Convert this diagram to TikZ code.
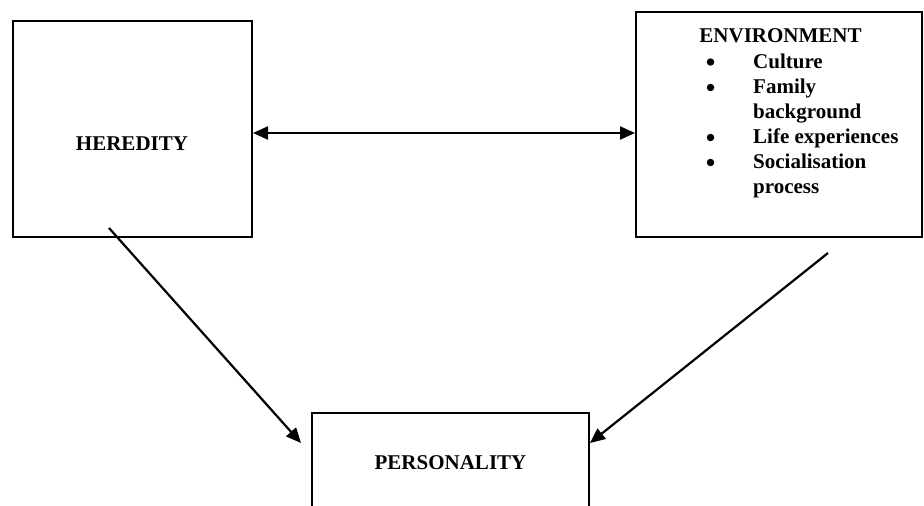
\documentclass[tikz,border=0pt]{standalone}
\usepackage{fontspec}
\setmainfont{Liberation Serif}
\usetikzlibrary{arrows.meta}
\begin{document}
\begin{tikzpicture}[x=1pt,y=-1pt,
  box/.style={draw, line width=2pt, inner sep=0pt},
  lbl/.style={font=\fontsize{21}{25}\selectfont\bfseries, inner sep=0pt, anchor=base},
  bul/.style={circle, fill, inner sep=0pt, minimum size=7.5pt},
  item/.style={font=\fontsize{21}{25}\selectfont\bfseries, inner sep=0pt, anchor=base west},
  conn/.style={line width=2.2pt, -{Triangle[length=15pt,width=13pt]}},
  dconn/.style={line width=2.2pt, {Triangle[length=15pt,width=13pt]}-{Triangle[length=15pt,width=13pt]}}]
\useasboundingbox (0,0) rectangle (924,506);
\clip (0,0) rectangle (924,506);
% boxes
\node[box, minimum width=239.5pt, minimum height=216pt] (her) at (132.25,129) {};
\node[box, minimum width=286pt, minimum height=225pt] (env) at (779,124.5) {};
\node[box, minimum width=277pt, minimum height=127pt] (pers) at (450.5,476.5) {};
% texts
\node[lbl] (hert) at (132,150) {HEREDITY};
\node[lbl] (pert) at (450.5,469) {PERSONALITY};
\node[lbl] (envt) at (780.5,42) {ENVIRONMENT};
\node[bul] (b1) at (710.5,62) {};
\node[bul] (b2) at (710.5,87.5) {};
\node[bul] (b3) at (710.5,137.5) {};
\node[bul] (b4) at (710.5,162.5) {};
\node[item] (i1) at (753,68) {Culture};
\node[item] (i2) at (753,93) {Family};
\node[item] (i2b) at (753,118) {background};
\node[item] (i3) at (753,143) {Life experiences};
\node[item] (i4) at (753,168) {Socialisation};
\node[item] (i4b) at (753,193) {process};
% connectors
\draw[dconn] (her.east |- 0,133) -- (env.west |- 0,133);
\coordinate (h0) at (109,228);
\coordinate (p1) at (301,443);
\coordinate (e0) at (828,253);
\coordinate (p2) at (590,443);
\draw[conn] (h0) -- (p1);
\draw[conn] (e0) -- (p2);
\end{tikzpicture}
\end{document}
